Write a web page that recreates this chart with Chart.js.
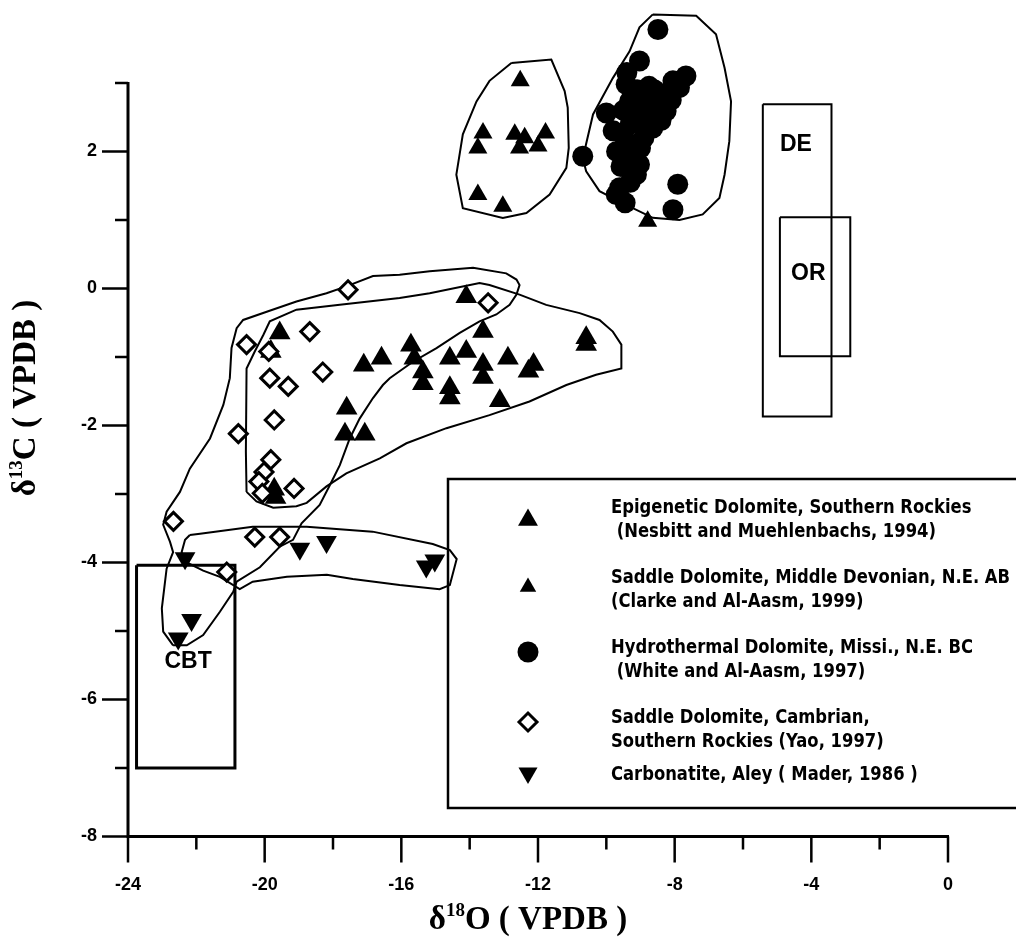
<!DOCTYPE html>
<html>
<head>
<meta charset="utf-8">
<script src="https://cdn.jsdelivr.net/npm/chart.js@4.4.1/dist/chart.umd.min.js"></script>
<style>
  html, body { margin: 0; padding: 0; background: #fff; }
</style>
</head>
<body>
<canvas id="isoChart" width="1016" height="943"></canvas>
<script>
// =============================================
// DATA  (x = d18O, y = d13C, both permil VPDB)
// =============================================

const xTickLabels = [-24, -20, -16, -12, -8, -4, 0];
const yTickLabels = [-8, -6, -4, -2, 0, 2];
const yAxisTop = 3; // the drawn axis stops here, points go above it

// Epigenetic Dolomite, Southern Rockies (Nesbitt and Muehlenbachs, 1994)
const epigeneticPts = [
    [-14.10, -0.12], [-19.56, -0.65], [-19.82, -0.92], [-17.10, -1.12], [-16.58, -1.02],
    [-15.72, -0.83], [-15.62, -1.02], [-15.37, -1.22], [-15.37, -1.39], [-13.61, -0.63],
    [-14.58, -1.02], [-14.10, -0.92], [-13.61, -1.11], [-13.61, -1.30], [-12.88, -1.02],
    [-12.13, -1.11], [-12.28, -1.21], [-14.58, -1.45], [-14.58, -1.60], [-13.12, -1.64],
    [-17.60, -1.75], [-17.65, -2.13], [-17.07, -2.13], [-10.59, -0.72], [-10.59, -0.82],
    [-19.68, -3.05], [-19.72, -2.93]
];

// Saddle Dolomite, Middle Devonian, N.E. AB (Clarke and Al-Aasm, 1999)
const devonianPts = [
    [-12.52, 3.03], [-13.61, 2.27], [-13.76, 2.05], [-12.68, 2.25], [-12.39, 2.20],
    [-12.54, 2.05], [-11.78, 2.27], [-12.00, 2.08], [-13.76, 1.37], [-13.03, 1.20],
    [-8.79, 0.98]
];

// Hydrothermal Dolomite, Missi., N.E. BC (White and Al-Aasm, 1997)
const hydrothermalPts = [
    [-8.49, 3.78], [-9.03, 3.32], [-10.69, 1.93], [-7.91, 1.52], [-8.05, 1.15],
    [-7.67, 3.10], [-8.05, 3.03], [-9.42, 2.98], [-10.00, 2.56], [-9.32, 2.73],
    [-9.03, 2.59], [-8.44, 2.78], [-8.25, 2.59], [-8.64, 2.34], [-9.52, 2.25],
    [-9.22, 2.10], [-9.03, 2.44], [-9.57, 1.78], [-9.03, 1.81], [-9.61, 1.47],
    [-9.12, 1.66], [-9.71, 1.37], [-7.86, 2.93], [-8.25, 2.85], [-8.80, 2.60],
    [-9.30, 2.40], [-9.20, 1.95], [-9.40, 3.15], [-9.70, 2.00], [-9.50, 2.60],
    [-9.10, 2.90], [-8.90, 2.70], [-8.60, 2.90], [-8.40, 2.45], [-8.90, 2.20],
    [-9.30, 1.55], [-9.45, 1.25], [-8.75, 2.95], [-8.10, 2.75], [-9.80, 2.30],
    [-9.00, 2.05]
];

// Saddle Dolomite, Cambrian, Southern Rockies (Yao, 1997)
const cambrianPts = [
    [-17.56, -0.02], [-13.46, -0.21], [-18.68, -0.63], [-20.53, -0.82], [-19.88, -0.92],
    [-18.30, -1.22], [-19.85, -1.31], [-19.31, -1.43], [-19.72, -1.92], [-20.77, -2.12],
    [-19.82, -2.50], [-20.02, -2.68], [-20.17, -2.82], [-20.07, -2.99], [-19.14, -2.92],
    [-22.67, -3.40], [-20.29, -3.63], [-19.56, -3.63], [-21.11, -4.14]
];

// Carbonatite, Aley (Mader, 1986)
const carbonatitePts = [
    [-22.33, -3.94], [-18.97, -3.80], [-18.19, -3.70], [-15.27, -4.06], [-15.02, -3.97],
    [-22.14, -4.84], [-22.53, -5.11]
];

// hand-drawn envelopes (outline vertices, data units)
const devonianEnvelope = [
    [-12.78, 3.29], [-11.61, 3.34], [-11.22, 2.88], [-11.13, 2.64], [-11.10, 2.05],
    [-11.17, 1.76], [-11.66, 1.37], [-12.34, 1.10], [-13.03, 1.03], [-14.20, 1.17],
    [-14.39, 1.66], [-14.20, 2.25], [-13.80, 2.73], [-13.42, 3.03], [-12.78, 3.29]
];
const hydrothermalEnvelope = [
    [-8.64, 4.00], [-7.37, 3.98], [-6.79, 3.71], [-6.54, 3.22], [-6.35, 2.73],
    [-6.40, 2.15], [-6.54, 1.66], [-6.69, 1.32], [-7.18, 1.08], [-7.86, 1.00],
    [-8.64, 1.03], [-9.42, 1.22], [-10.20, 1.42], [-10.59, 1.71], [-10.69, 1.90],
    [-10.39, 2.54], [-9.81, 3.07], [-9.32, 3.46], [-9.03, 3.81], [-8.64, 4.00]
];
const epigeneticEnvelope = [
    [-20.53, -2.97], [-20.55, -2.38], [-20.53, -1.17], [-20.29, -0.92], [-20.04, -0.68],
    [-19.85, -0.48], [-19.07, -0.31], [-17.80, -0.24], [-16.05, -0.14], [-15.17, -0.07],
    [-13.71, 0.08], [-13.42, 0.05], [-12.54, -0.09], [-11.76, -0.24], [-10.78, -0.36],
    [-10.20, -0.46], [-9.81, -0.63], [-9.56, -0.82], [-9.56, -1.17], [-10.30, -1.26],
    [-11.17, -1.41], [-12.25, -1.65], [-13.42, -1.85], [-14.68, -2.04], [-15.85, -2.26],
    [-16.63, -2.48], [-17.61, -2.70], [-18.19, -2.89], [-18.77, -3.13], [-19.07, -3.18],
    [-19.75, -3.20], [-20.24, -3.11], [-20.53, -2.97]
];
const cambrianEnvelope = [
    [-22.68, -5.21], [-22.97, -5.01], [-23.01, -4.67], [-22.87, -4.09], [-22.68, -3.85],
    [-22.77, -3.70], [-22.97, -3.45], [-22.87, -3.26], [-22.48, -2.97], [-22.19, -2.63],
    [-21.60, -2.19], [-21.21, -1.70], [-21.02, -1.31], [-20.97, -0.87], [-20.82, -0.58],
    [-20.63, -0.46], [-19.94, -0.34], [-19.07, -0.19], [-18.19, -0.07], [-17.61, 0.03],
    [-16.83, 0.18], [-16.05, 0.20], [-15.17, 0.25], [-13.90, 0.30], [-12.93, 0.22],
    [-12.63, 0.13], [-12.54, 0.05], [-12.63, -0.09], [-12.83, -0.24], [-13.22, -0.38],
    [-13.71, -0.48], [-14.29, -0.65], [-14.97, -0.87], [-15.66, -1.07], [-16.34, -1.31],
    [-16.54, -1.41], [-16.83, -1.60], [-17.22, -1.90], [-17.51, -2.19], [-17.80, -2.58],
    [-18.09, -2.87], [-18.39, -3.16], [-18.92, -3.43], [-19.17, -3.67], [-19.56, -3.77],
    [-20.14, -4.07], [-20.82, -4.28], [-20.92, -4.43], [-21.31, -4.72], [-21.80, -5.06],
    [-22.28, -5.21], [-22.68, -5.21]
];
const carbonatiteEnvelope = [
    [-22.19, -3.60], [-21.89, -3.58], [-20.35, -3.48], [-18.77, -3.48], [-16.84, -3.55],
    [-15.08, -3.73], [-14.58, -3.82], [-14.38, -3.95], [-14.58, -4.33], [-14.88, -4.39],
    [-16.05, -4.33], [-17.42, -4.24], [-18.18, -4.18], [-19.35, -4.21], [-20.35, -4.28],
    [-20.73, -4.39], [-21.31, -4.21], [-21.80, -4.12], [-22.28, -4.00], [-22.43, -3.85],
    [-22.33, -3.67], [-22.19, -3.60]
];

// reference fields: [xMin, xMax, yMin, yMax]
const fieldNames = ['CBT', 'DE', 'OR'];
const fieldBounds = [
    [-23.75, -20.87, -7.00, -4.04],
    [-5.42, -3.41, -1.87, 2.69],
    [-4.92, -2.86, -0.99, 1.04]
];
const fieldLabelX = [-22.24, -4.45, -4.09];
const fieldLabelY = [-5.45, 2.10, 0.22];

const seriesLabels = [
    ['Epigenetic Dolomite, Southern Rockies', ' (Nesbitt and Muehlenbachs, 1994)'],
    ['Saddle Dolomite, Middle Devonian, N.E. AB', '(Clarke and Al-Aasm, 1999)'],
    ['Hydrothermal Dolomite, Missi., N.E. BC', ' (White and Al-Aasm, 1997)'],
    ['Saddle Dolomite, Cambrian,', 'Southern Rockies (Yao, 1997)'],
    ['Carbonatite, Aley ( Mader, 1986 )']
];

const xTitle = ['\u03B4', '18', 'O ( VPDB )'];
const yTitle = ['\u03B4', '13', 'C ( VPDB )'];

// =============================================
// HELPERS
// =============================================

const toXY = arr => arr.map(p => ({ x: p[0], y: p[1] }));

function boxPath(b) {
    return [[b[0], b[3]], [b[1], b[3]], [b[1], b[2]], [b[0], b[2]], [b[0], b[3]]];
}

function outline(data, width) {
    return {
        data: toXY(data),
        showLine: true,
        borderColor: '#000',
        borderWidth: width || 2,
        pointRadius: 0,
        fill: false,
        tension: 0,
        clip: false
    };
}

const markerStyles = [
    { pointStyle: 'triangle', radius: 12.5, rotation: 0, fill: '#000', border: 0 },
    { pointStyle: 'triangle', radius: 11, rotation: 0, fill: '#000', border: 0 },
    { pointStyle: 'circle', radius: 10.5, rotation: 0, fill: '#000', border: 0 },
    { pointStyle: 'rectRot', radius: 9, rotation: 0, fill: '#fff', border: 3 },
    { pointStyle: 'triangle', radius: 12, rotation: 180, fill: '#000', border: 0 }
];
const seriesData = [epigeneticPts, devonianPts, hydrothermalPts, cambrianPts, carbonatitePts];

function pointSet(i) {
    const m = markerStyles[i];
    return {
        data: toXY(seriesData[i]),
        pointStyle: m.pointStyle,
        pointRadius: m.radius,
        pointRotation: m.rotation,
        pointBackgroundColor: m.fill,
        pointBorderColor: '#000',
        pointBorderWidth: m.border,
        showLine: false,
        clip: false
    };
}

// draw "d" + superscript + rest, centred at (cx, cy)
function drawIsoTitle(ctx, parts, cx, cy, angle) {
    const big = 'bold 33px "Liberation Serif", "Times New Roman", serif';
    const small = 'bold 19px "Liberation Serif", "Times New Roman", serif';
    ctx.save();
    ctx.translate(cx, cy);
    ctx.rotate(angle);
    ctx.font = big; const w0 = ctx.measureText(parts[0]).width;
    ctx.font = small; const w1 = ctx.measureText(parts[1]).width;
    ctx.font = big; const w2 = ctx.measureText(parts[2]).width;
    let x = -(w0 + w1 + w2) / 2;
    ctx.fillStyle = '#000';
    ctx.textBaseline = 'alphabetic';
    ctx.font = big; ctx.fillText(parts[0], x, 11); x += w0;
    ctx.font = small; ctx.fillText(parts[1], x, -2); x += w1;
    ctx.font = big; ctx.fillText(parts[2], x, 11);
    ctx.restore();
}

// =============================================
// PLUGINS
// =============================================

const axesPlugin = {
    id: 'hangingAxes',
    beforeDatasetsDraw(chart) {
        const ctx = chart.ctx;
        const xs = chart.scales.x, ys = chart.scales.y;
        const x0 = xs.getPixelForValue(xs.min), x1 = xs.getPixelForValue(xs.max);
        const yb = ys.getPixelForValue(ys.min), yt = ys.getPixelForValue(yAxisTop);
        ctx.save();
        ctx.strokeStyle = '#000';
        ctx.lineWidth = 3;
        ctx.lineCap = 'butt';
        ctx.beginPath();
        ctx.moveTo(x0, yt - 1);
        ctx.lineTo(x0, yb);
        ctx.lineTo(x1 + 1, yb);
        ctx.stroke();
        ctx.lineWidth = 2.5;
        ctx.beginPath();
        ys.ticks.forEach(t => {
            if (t.value > yAxisTop || !Number.isInteger(t.value)) return;
            const p = ys.getPixelForValue(t.value);
            const len = yTickLabels.includes(t.value) ? 26 : 13;
            ctx.moveTo(x0 - len, p);
            ctx.lineTo(x0, p);
        });
        xs.ticks.forEach(t => {
            const p = xs.getPixelForValue(t.value);
            const len = xTickLabels.includes(t.value) ? 26 : 13;
            ctx.moveTo(p, yb);
            ctx.lineTo(p, yb + len);
        });
        ctx.stroke();
        ctx.restore();

        drawIsoTitle(ctx, xTitle, (x0 + x1) / 2 - 10, 918, 0);
        drawIsoTitle(ctx, yTitle, 24, ys.getPixelForValue(-1.6), -Math.PI / 2);
    }
};

const fieldLabelPlugin = {
    id: 'fieldLabels',
    afterDatasetsDraw(chart) {
        const ctx = chart.ctx;
        const xs = chart.scales.x, ys = chart.scales.y;
        ctx.save();
        ctx.fillStyle = '#000';
        ctx.font = 'bold 23px "Liberation Sans", Arial, sans-serif';
        ctx.textAlign = 'center';
        ctx.textBaseline = 'middle';
        fieldNames.forEach((name, i) => {
            ctx.fillText(name, xs.getPixelForValue(fieldLabelX[i]), ys.getPixelForValue(fieldLabelY[i]));
        });
        ctx.restore();
    }
};

const boxLegendPlugin = {
    id: 'boxLegend',
    afterDraw(chart) {
        const ctx = chart.ctx;
        const box = { left: 448, top: 479, right: 1030, bottom: 808 };
        const markerX = 528, textX = 611;
        const lineY = [[508, 532], [578, 602], [648, 672], [718, 742], [775]];
        const markerY = [520, 587, 652, 722, 773];
        const markerR = [11.5, 9.5, 10.5, 9, 11];

        ctx.save();
        ctx.lineWidth = 2.5;
        ctx.strokeStyle = '#000';
        ctx.strokeRect(box.left, box.top, box.right - box.left, box.bottom - box.top);

        ctx.font = 'bold 20px "Liberation Sans Narrow", "DejaVu Sans Condensed", Arial, sans-serif';
        const sx = 399 / ctx.measureText(seriesLabels[1][0]).width;
        ctx.fillStyle = '#000';
        ctx.textBaseline = 'middle';
        seriesLabels.forEach((lines, i) => {
            lines.forEach((txt, j) => {
                ctx.save();
                ctx.translate(textX, lineY[i][j]);
                ctx.scale(sx, 1);
                ctx.fillText(txt, 0, 0);
                ctx.restore();
            });
            const m = markerStyles[i];
            ctx.fillStyle = m.fill;
            ctx.strokeStyle = '#000';
            ctx.lineWidth = m.border;
            Chart.helpers.drawPoint(ctx, {
                pointStyle: m.pointStyle,
                radius: markerR[i],
                rotation: m.rotation,
                borderWidth: m.border
            }, markerX, markerY[i]);
            ctx.fillStyle = '#000';
        });
        ctx.restore();
    }
};

// =============================================
// CHART
// =============================================

const datasets = [
    pointSet(3), pointSet(0), pointSet(1), pointSet(2), pointSet(4),
    outline(devonianEnvelope), outline(hydrothermalEnvelope),
    outline(epigeneticEnvelope), outline(cambrianEnvelope), outline(carbonatiteEnvelope),
    outline(boxPath(fieldBounds[0]), 3), outline(boxPath(fieldBounds[1]), 2),
    outline(boxPath(fieldBounds[2]), 2)
];

new Chart(document.getElementById('isoChart'), {
    type: 'scatter',
    data: { datasets: datasets },
    options: {
        responsive: false,
        animation: false,
        events: [],
        layout: { autoPadding: false, padding: { left: 0, right: 68, top: 0, bottom: 0 } },
        plugins: {
            legend: { display: false },
            tooltip: { enabled: false }
        },
        scales: {
            x: {
                type: 'linear',
                min: -24,
                max: 0,
                border: { display: false },
                grid: { display: false, drawTicks: false },
                afterFit: s => { s.height = 106.5; },
                ticks: {
                    stepSize: 2,
                    autoSkip: false,
                    maxRotation: 0,
                    padding: 38,
                    color: '#000',
                    font: { family: '"Liberation Sans", Arial, sans-serif', size: 18, weight: 'bold' },
                    callback: v => xTickLabels.includes(v) ? String(v) : ''
                }
            },
            y: {
                type: 'linear',
                min: -8,
                max: 4.21,
                border: { display: false },
                grid: { display: false, drawTicks: false },
                afterFit: s => {
                    s.width = 128;
                    s.paddingTop = 0;
                    s.paddingBottom = 0;
                },
                ticks: {
                    stepSize: 1,
                    autoSkip: false,
                    padding: 31,
                    color: '#000',
                    font: { family: '"Liberation Sans", Arial, sans-serif', size: 18, weight: 'bold' },
                    callback: v => yTickLabels.includes(v) ? String(v) : ''
                }
            }
        }
    },
    plugins: [axesPlugin, fieldLabelPlugin, boxLegendPlugin]
});
</script>
</body>
</html>
